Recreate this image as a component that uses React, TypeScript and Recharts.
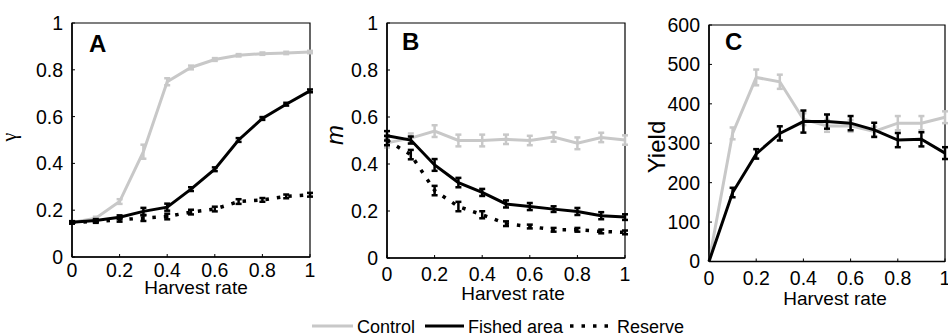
import React from 'react';
import { LineChart, Line, XAxis, YAxis, ErrorBar, ReferenceArea } from 'recharts';

// ---- data ----
const harvest = [0, 0.1, 0.2, 0.3, 0.4, 0.5, 0.6, 0.7, 0.8, 0.9, 1];
const xTicks = [0, 0.2, 0.4, 0.6, 0.8, 1];
const unitTicks = [0, 0.2, 0.4, 0.6, 0.8, 1];
const yieldTicks = [0, 100, 200, 300, 400, 500, 600];

// Panel A: gamma
const aControl = [0.148, 0.166, 0.237, 0.45, 0.749, 0.81, 0.844, 0.862, 0.869, 0.872, 0.876];
const aControlErr = [0.005, 0.006, 0.01, 0.03, 0.015, 0.008, 0.006, 0.005, 0.005, 0.005, 0.005];
const aFished = [0.148, 0.156, 0.17, 0.195, 0.213, 0.29, 0.375, 0.5, 0.592, 0.653, 0.71];
const aFishedErr = [0.005, 0.006, 0.008, 0.015, 0.015, 0.008, 0.008, 0.008, 0.006, 0.006, 0.006];
const aReserve = [0.148, 0.152, 0.159, 0.166, 0.173, 0.192, 0.205, 0.237, 0.244, 0.259, 0.266];
const aReserveErr = [0.005, 0.006, 0.008, 0.012, 0.012, 0.01, 0.01, 0.01, 0.008, 0.008, 0.008];

// Panel B: m
const bControl = [0.49, 0.51, 0.54, 0.5, 0.5, 0.505, 0.5, 0.515, 0.488, 0.513, 0.502];
const bControlErr = [0.02, 0.02, 0.025, 0.025, 0.025, 0.02, 0.02, 0.02, 0.025, 0.02, 0.02];
const bFished = [0.52, 0.502, 0.396, 0.321, 0.279, 0.23, 0.219, 0.208, 0.198, 0.18, 0.174];
const bFishedErr = [0.02, 0.015, 0.025, 0.02, 0.015, 0.015, 0.015, 0.012, 0.015, 0.015, 0.012];
const bReserve = [0.5, 0.44, 0.287, 0.219, 0.184, 0.146, 0.134, 0.12, 0.12, 0.113, 0.109];
const bReserveErr = [0.02, 0.02, 0.02, 0.02, 0.015, 0.01, 0.008, 0.008, 0.008, 0.008, 0.008];

// Panel C: Yield
const cControl = [0, 325, 467, 456, 361, 344, 344, 330, 351, 351, 366];
const cControlErr = [0, 15, 20, 18, 15, 15, 15, 12, 18, 18, 15];
const cFished = [0, 175, 273, 325, 355, 355, 351, 334, 308, 310, 275];
const cFishedErr = [0, 12, 12, 18, 28, 18, 18, 18, 18, 18, 15];

const GRAY = '#c8c8c8';
const FONT = '"Liberation Sans", Arial, sans-serif';
const TICK_FS = 19.5;

type SeriesDef = { values: number[]; err: number[]; color: string; dashed?: boolean; key: string };

function buildRows(series: SeriesDef[]) {
  return harvest.map((x, i) => {
    const row: Record<string, number> = { x };
    series.forEach((s) => {
      row[s.key] = s.values[i];
      row[s.key + 'Err'] = s.err[i];
    });
    return row;
  });
}

const fmt = (v: number) => String(v);

const XTick = (p: any) => (
  <text x={p.x} y={p.y} dy="0.71em" textAnchor="middle" fontSize={TICK_FS} fontFamily={FONT} fill="#000">
    {fmt(p.payload.value)}
  </text>
);
const YTick = (p: any) => (
  <text x={p.x} y={p.y} dy="0.355em" textAnchor="end" fontSize={TICK_FS} fontFamily={FONT} fill="#000">
    {fmt(p.payload.value)}
  </text>
);

function Panel(props: {
  plotLeft: number; plotRight: number; plotTop: number; plotBottom: number;
  yMax: number; yTicks: number[]; xTickMargin: number; series: SeriesDef[];
}) {
  const { plotLeft, plotRight, plotTop, plotBottom, yMax, yTicks, xTickMargin, series } = props;
  const chartLeft = plotLeft - 70;
  const width = plotRight - plotLeft + 70 + 15;
  const height = 300;
  const data = buildRows(series);
  return (
    <div style={{ position: 'absolute', left: chartLeft, top: 0, width, height }}>
      <LineChart
        width={width}
        height={height}
        data={data}
        margin={{ top: plotTop, right: 15, left: 20, bottom: height - plotBottom - 30 }}
        style={{ overflow: 'visible' }}
      >
        <XAxis
          type="number"
          dataKey="x"
          domain={[0, 1]}
          ticks={xTicks}
          height={30}
          tickSize={-3}
          tickMargin={xTickMargin}
          interval={0}
          axisLine={{ stroke: '#000', strokeWidth: 1.5 }}
          tickLine={{ stroke: '#000', strokeWidth: 1 }}
          tick={XTick}
        />
        <YAxis
          type="number"
          domain={[0, yMax]}
          ticks={yTicks}
          width={50}
          tickSize={-3}
          tickMargin={12}
          interval={0}
          axisLine={{ stroke: '#000', strokeWidth: 1.5 }}
          tickLine={{ stroke: '#000', strokeWidth: 1 }}
          tick={YTick}
        />
        <ReferenceArea x1={0} x2={1} y1={0} y2={yMax} fill="none" stroke="#000" strokeWidth={1.2} />
        {series.map((s) => (
          <Line
            key={s.key}
            type="linear"
            dataKey={s.key}
            stroke={s.color}
            strokeWidth={s.dashed ? 3.5 : 3}
            strokeDasharray={s.dashed ? '3.5 8' : undefined}
            dot={false}
            activeDot={false}
            isAnimationActive={false}
          >
            <ErrorBar dataKey={s.key + 'Err'} direction="y" width={3} stroke={s.color} strokeWidth={2.5} />
          </Line>
        ))}
      </LineChart>
    </div>
  );
}

export default function App() {
  const seriesA: SeriesDef[] = [
    { key: 'control', values: aControl, err: aControlErr, color: GRAY },
    { key: 'reserve', values: aReserve, err: aReserveErr, color: '#000', dashed: true },
    { key: 'fished', values: aFished, err: aFishedErr, color: '#000' },
  ];
  const seriesB: SeriesDef[] = [
    { key: 'control', values: bControl, err: bControlErr, color: GRAY },
    { key: 'reserve', values: bReserve, err: bReserveErr, color: '#000', dashed: true },
    { key: 'fished', values: bFished, err: bFishedErr, color: '#000' },
  ];
  const seriesC: SeriesDef[] = [
    { key: 'control', values: cControl, err: cControlErr, color: GRAY },
    { key: 'fished', values: cFished, err: cFishedErr, color: '#000' },
  ];
  return (
    <div style={{ position: 'absolute', left: 0, top: 0, width: 948, height: 335, background: '#fff', overflow: 'hidden' }}>
      <Panel plotLeft={72} plotRight={310} plotTop={23} plotBottom={257} yMax={1} yTicks={unitTicks} xTickMargin={9} series={seriesA} />
      <Panel plotLeft={387} plotRight={625} plotTop={23} plotBottom={258} yMax={1} yTicks={unitTicks} xTickMargin={12} series={seriesB} />
      <Panel plotLeft={709} plotRight={945} plotTop={25} plotBottom={261.5} yMax={600} yTicks={yieldTicks} xTickMargin={13} series={seriesC} />
      <svg width={948} height={335} style={{ position: 'absolute', left: 0, top: 0, pointerEvents: 'none' }}>
        <g fontFamily={FONT} fill="#000">
          <text x={89} y={52} fontSize={24} fontWeight="bold">A</text>
          <text x={402} y={50} fontSize={24} fontWeight="bold">B</text>
          <text x={725} y={50} fontSize={24} fontWeight="bold">C</text>
          <text x={196} y={294} fontSize={19} textAnchor="middle">Harvest rate</text>
          <text x={513} y={300} fontSize={19} textAnchor="middle">Harvest rate</text>
          <text x={835} y={305} fontSize={19} textAnchor="middle">Harvest rate</text>
          <text x={16} y={137} fontSize={20} fontFamily='"Liberation Serif", serif' textAnchor="middle" transform="rotate(-90 16 137)">γ</text>
          <text x={343} y={135} fontSize={24} fontStyle="italic" textAnchor="middle" transform="rotate(-90 343 135)">m</text>
          <text x={665} y={147} fontSize={24} textAnchor="middle" transform="rotate(-90 665 147)">Yield</text>
          <line x1={312} x2={353} y1={326} y2={326} stroke={GRAY} strokeWidth={3} />
          <text x={357} y={333} fontSize={18}>Control</text>
          <line x1={425} x2={464} y1={326} y2={326} stroke="#000" strokeWidth={3} />
          <text x={468} y={333} fontSize={18}>Fished area</text>
          <line x1={570} x2={613} y1={326} y2={326} stroke="#000" strokeWidth={3.5} strokeDasharray="3.5 8" />
          <text x={617} y={333} fontSize={18}>Reserve</text>
        </g>
      </svg>
    </div>
  );
}
